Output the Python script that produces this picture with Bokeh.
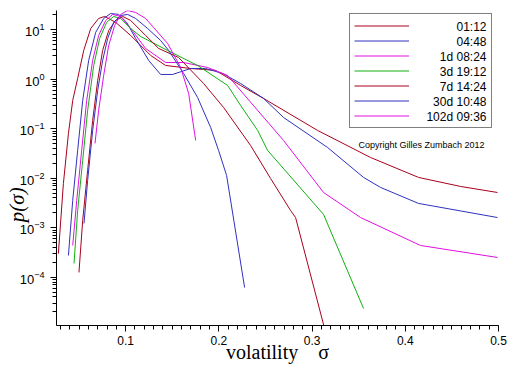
import numpy as np
from bokeh.plotting import figure
from bokeh.models import Range1d, FixedTicker, SingleIntervalTicker, Legend, LegendItem, Label
from bokeh.embed import file_html
from bokeh.resources import INLINE

labels = ["01:12", "04:48", "1d 08:24", "3d 19:12", "7d 14:24", "30d 10:48", "102d 09:36"]
colors = ["#a8001c", "#3030c0", "#e010e0", "#10b010", "#a8001c", "#3030c0", "#e010e0"]

s_0112 = [0.0278, 0.0332, 0.0386, 0.0432, 0.0485, 0.0550, 0.0625, 0.0710, 0.0775, 0.0893, 0.1054,
          0.1268, 0.1429, 0.1697, 0.1965, 0.2233, 0.2480, 0.3059, 0.3627, 0.4142, 0.4593, 0.4989]
p_0112 = [3.0e-4, 7.85e-3, 0.080, 0.373, 1.04, 3.82, 10.6, 16.9, 18.6, 14.1, 7.67,
          3.03, 1.90, 1.65, 1.51, 0.750, 0.409, 0.0925, 0.0263, 0.0104, 6.83e-3, 5.16e-3]

s_0448 = [0.0386, 0.0432, 0.0485, 0.0539, 0.0603, 0.0678, 0.0764, 0.0839, 0.0925, 0.1011, 0.1107,
          0.1247, 0.1375, 0.1504, 0.1697, 0.1858, 0.2040, 0.2233, 0.2480, 0.2694, 0.3166, 0.3552,
          0.3735, 0.4142, 0.4989]
p_0448 = [2.75e-4, 3.56e-3, 0.0365, 0.373, 2.40, 8.83, 16.9, 21.3, 20.4, 14.1, 6.67,
          2.40, 1.25, 1.25, 1.65, 1.65, 1.31, 0.822, 0.409, 0.169, 0.0419, 0.0104,
          6.52e-3, 3.10e-3, 1.61e-3]

s_1d = [0.0432, 0.0475, 0.0528, 0.0582, 0.0646, 0.0710, 0.0786, 0.0861, 0.0946, 0.1054, 0.1214,
        0.1429, 0.1622, 0.1879, 0.2094, 0.2694, 0.3123, 0.3520, 0.4163, 0.4989]
p_1d = [4.39e-4, 3.56e-3, 0.0365, 0.373, 2.40, 7.67, 15.4, 20.4, 18.6, 10.6, 4.19,
        2.18, 2.18, 1.73, 1.19, 0.058, 5.16e-3, 1.61e-3, 4.39e-4, 2.51e-4]

s_3d = [0.0446, 0.0485, 0.0539, 0.0592, 0.0657, 0.0721, 0.0796, 0.0871, 0.0946, 0.1054, 0.1161,
        0.1450, 0.1772, 0.2094, 0.2233, 0.2416, 0.2523, 0.3123, 0.3552]
p_3d = [1.90e-4, 2.24e-3, 0.0229, 0.234, 1.90, 6.67, 14.1, 18.6, 16.9, 10.6, 7.32,
        3.82, 1.90, 0.750, 0.296, 0.0925, 0.0365, 1.86e-3, 2.34e-5]

s_7d = [0.0499, 0.0539, 0.0592, 0.0646, 0.0700, 0.0753, 0.0818, 0.0893, 0.0968, 0.1054, 0.1214,
        0.1354, 0.1568, 0.1836, 0.2051, 0.2340, 0.2555, 0.2769, 0.2823, 0.3145]
p_7d = [1.25e-4, 1.41e-3, 0.0144, 0.147, 0.946, 3.82, 9.68, 15.4, 18.6, 15.4, 7.67,
        4.19, 2.75, 0.822, 0.269, 0.0460, 9.9e-3, 2.24e-3, 1.61e-3, 7.7e-6]

s_30d = [0.0553, 0.0592, 0.0646, 0.0700, 0.0753, 0.0807, 0.0871, 0.0946, 0.1021, 0.1107, 0.1236,
         0.1375, 0.1461, 0.1622, 0.1772, 0.1912, 0.1997, 0.2083, 0.2276]
p_30d = [1.22e-3, 9.0e-3, 0.0925, 0.594, 2.40, 6.67, 14.1, 19.4, 20.4, 16.9, 10.6,
         6.08, 3.82, 1.31, 0.428, 0.106, 0.0365, 0.0114, 6.2e-5]

s_102d = [0.0671, 0.0710, 0.0764, 0.0818, 0.0882, 0.0946, 0.1021, 0.1107, 0.1214, 0.1300, 0.1450,
          0.1590, 0.1676, 0.1751]
p_102d = [0.0505, 0.234, 1.19, 4.82, 12.2, 20.4, 24.5, 22.4, 16.9, 11.1, 5.29,
          1.73, 0.516, 0.058]

series = [(s_0112, p_0112), (s_0448, p_0448), (s_1d, p_1d), (s_3d, p_3d),
          (s_7d, p_7d), (s_30d, p_30d), (s_102d, p_102d)]

y_major = [1e-4, 1e-3, 1e-2, 1e-1, 1e0, 1e1]
y_minor = [m * 10.0 ** e for e in range(-5, 2) for m in range(2, 10)]

p = figure(width=512, height=366, x_range=Range1d(0.0258, 0.5), y_range=Range1d(1.06e-5, 24.5),
           y_axis_type="log", output_backend="svg", toolbar_location=None,
           min_border_left=56, min_border_right=14, min_border_top=10, min_border_bottom=41)
p.outline_line_color = None
p.grid.visible = False
p.background_fill_color = "white"

p.xaxis.ticker = SingleIntervalTicker(interval=0.1, num_minor_ticks=10)
p.yaxis.ticker = FixedTicker(ticks=y_major, minor_ticks=y_minor)
for ax in (p.xaxis[0], p.yaxis[0]):
    ax.axis_line_color = "black"
    ax.major_tick_line_color = "black"
    ax.minor_tick_line_color = "black"
    ax.major_tick_in = 0
    ax.minor_tick_in = 0
    ax.major_tick_out = 6
    ax.minor_tick_out = 4
    ax.major_label_text_font = "Liberation Sans"
    ax.major_label_text_color = "black"
    ax.axis_label_text_font = "Liberation Serif"
    ax.axis_label_text_color = "black"
p.xaxis.major_label_text_font_size = "12px"
p.yaxis.major_label_text_font_size = "13px"
p.xaxis.major_label_standoff = 4
p.yaxis.major_label_standoff = 6

p.xaxis.axis_label = "volatility\u2003σ"
p.xaxis.axis_label_text_font_size = "20px"
p.xaxis.axis_label_text_font_style = "normal"
p.xaxis.axis_label_standoff = -7

p.yaxis.axis_label = "p(σ)\u2003\u2003\u2003\u2002"
p.yaxis.axis_label_text_font_size = "21px"
p.yaxis.axis_label_text_font_style = "italic"
p.yaxis.axis_label_standoff = -12

items = []
for (s, d), c, lab in zip(series, colors, labels):
    r = p.line(s, d, line_color=c, line_width=1)
    items.append(LegendItem(label=" ", renderers=[r]))

legend = Legend(items=items, location=(293, 197), padding=4, spacing=0, glyph_height=15,
                label_height=15, glyph_width=55, label_standoff=8, label_width=70,
                border_line_color="black", border_line_width=1, background_fill_alpha=0,
                margin=0, label_text_font_size="12px")
p.add_layout(legend)

for i, lab in enumerate(labels):
    p.add_layout(Label(x=430, y=298.5 - 15 * i, x_units="screen", y_units="screen", text=lab,
                       text_align="right", text_baseline="middle", text_font="Liberation Sans",
                       text_font_size="12px", text_color="black", level="overlay"))

p.add_layout(Label(x=365, y=181, x_units="screen", y_units="screen",
                   text="Copyright Gilles Zumbach 2012", text_align="center", text_baseline="middle",
                   text_font="Liberation Sans", text_font_size="9px", text_color="black",
                   level="overlay"))

open("out.html", "w").write(file_html(p, INLINE))
